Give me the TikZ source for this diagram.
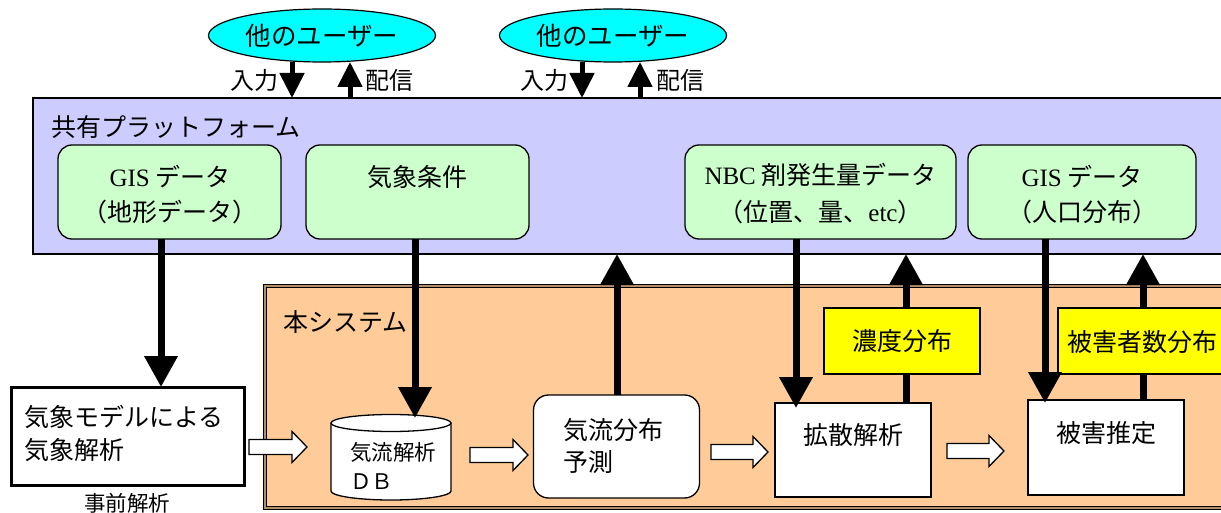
\documentclass[tikz,border=0pt]{standalone}
\usepackage{fontspec}
\setmainfont{Liberation Serif}
\newfontfamily\jp{Noto Sans CJK JP}
\usetikzlibrary{arrows.meta,calc,shapes.geometric}
\definecolor{ucyan}{HTML}{00FFFF}
\definecolor{plat}{HTML}{CCCCFF}
\definecolor{gbox}{HTML}{CCFFCC}
\definecolor{sysc}{HTML}{FFCC99}
\definecolor{ybox}{HTML}{FFFF00}
\newcommand\myharrow[3]{\draw[hollowarr] (#1,#3-7.5) -- (#2-15,#3-7.5) -- (#2-15,#3-15.5) -- (#2,#3) -- (#2-15,#3+15.5) -- (#2-15,#3+7.5) -- (#1,#3+7.5) -- cycle;}
\tikzset{
  every node/.style={font=\jp\fontsize{25}{30}\selectfont, inner sep=0pt, outer sep=0pt},
  small/.style={font=\jp\fontsize{21.5}{29}\selectfont},
  mid/.style={font=\jp\fontsize{24}{29}\selectfont},
  user/.style={ellipse, draw, line width=1.2pt, fill=ucyan, minimum width=227pt, minimum height=53pt, font=\jp\fontsize{25.5}{30}\selectfont},
  platbox/.style={draw, line width=1.5pt, fill=plat},
  greenbox/.style={draw, line width=1.3pt, fill=gbox, rounded corners=14pt},
  sysbox/.style={draw, double, double distance=2pt, line width=1pt, fill=sysc, double=sysc!70!black},
  whitebox/.style={draw, line width=2.5pt, fill=white},
  roundwhite/.style={draw, line width=1.3pt, fill=white, rounded corners=15pt},
  yellowbox/.style={draw, line width=2.5pt, fill=ybox},
  bigarr/.style={line width=7pt, -{Triangle[length=31pt,width=32pt]}},
  plainline/.style={line width=7pt},
  smallarr/.style={line width=5pt, -{Triangle[length=25pt,width=24pt]}},
  hollowarr/.style={draw, line width=1.3pt, fill=white},
}
\begin{document}
\begin{tikzpicture}[x=1pt,y=-1pt]
\useasboundingbox[fill=white] (0,0) rectangle (1221,513);
% users
\node[user] (u1) at (322,35.5) {他のユーザー};
\node[user] (u2) at (613,35.5) {他のユーザー};
% platform
\node[platbox, minimum width=1210pt, minimum height=156pt] (plat) at (638,176) {};
\node[anchor=west] (platlbl) at (51,127) {共有プラットフォーム};
% arrows users
\coordinate (c1) at (292,0);
\coordinate (c2) at (350,0);
\coordinate (c3) at (582,0);
\coordinate (c4) at (640,0);
\draw[smallarr] (u1.south -| c1) -- (plat.north -| c1);
\draw[smallarr] (plat.north -| c2) -- (u1.south -| c2);
\draw[smallarr] (u2.south -| c3) -- (plat.north -| c3);
\draw[smallarr] (plat.north -| c4) -- (u2.south -| c4);
\node[mid] (in1) at (254,80) {入力};
\node[mid] (out1) at (389,80) {配信};
\node[mid] (in2) at (544,80) {入力};
\node[mid] (out2) at (680,80) {配信};
% green boxes
\node[greenbox, minimum width=223pt, minimum height=94pt] (gis1) at (169.5,192) {};
\node[greenbox, minimum width=223pt, minimum height=94pt] (met) at (417.5,192) {};
\node[greenbox, minimum width=271pt, minimum height=94pt] (nbc) at (820.5,192) {};
\node[greenbox, minimum width=228pt, minimum height=94pt] (gis2) at (1082,192) {};
\node[align=center, font=\jp\fontsize{25}{35}\selectfont] (gis1t) at (170,194.5) {{\rmfamily GIS} データ\\（地形データ）};
\node (mett) at (417.5,177) {気象条件};
\node[align=center, font=\jp\fontsize{25}{37}\selectfont] (nbct) at (820.5,193.5) {{\rmfamily NBC} 剤発生量データ\\（位置、量、{\rmfamily etc}）};
\node[align=center, font=\jp\fontsize{25}{35}\selectfont] (gis2t) at (1082,194.5) {{\rmfamily GIS} データ\\（人口分布）};
% system box
\node[sysbox, minimum width=980pt, minimum height=222pt] (sys) at (755,396.5) {};
\node[anchor=west] (syslbl) at (283,322) {本システム};
% model box
\node[whitebox, line width=3pt, minimum width=233pt, minimum height=98pt] (model) at (128,436) {};
\node[anchor=west, align=left, font=\jp\fontsize{25}{33}\selectfont] (modelt) at (24,433.5) {気象モデルによる\\気象解析};
\node[small] (pre) at (127,503) {事前解析};
% cylinder DB
\node[minimum width=120pt, minimum height=85pt] (db) at (391,457.5) {};
\draw[line width=1.3pt, fill=white] (331,423) -- (331,491) arc[start angle=180, end angle=0, x radius=60, y radius=9] -- (451,423);
\draw[line width=1.3pt, fill=white] (391,423) ellipse[x radius=60, y radius=8.5];
\node[small, anchor=west, align=left] (dbt) at (350,466) {気流解析\\ＤＢ};
% flow prediction
\node[roundwhite, minimum width=166pt, minimum height=103pt] (flow) at (616.5,446.5) {};
\node[anchor=west, align=left, font=\jp\fontsize{25}{32}\selectfont] (flowt) at (563,446) {気流分布\\予測};
% diffusion
\node[whitebox, minimum width=156pt, minimum height=94pt] (diff) at (853,450) {};
\node (difft) at (853,435) {拡散解析};
% damage
\node[whitebox, minimum width=156pt, minimum height=95pt] (dmg) at (1106,447.5) {};
\node (dmgt) at (1106,433) {被害推定};
% yellow boxes
\node[yellowbox, minimum width=156pt, minimum height=66pt] (conc) at (902,341) {濃度分布};
\node[yellowbox, minimum width=180pt, minimum height=66pt] (vict) at (1148,341) {};
\node (victt) at (1142,342) {被害者数分布};
% big arrows
\coordinate (d1) at (161,0);
\coordinate (d2) at (415,0);
\coordinate (d3) at (617,0);
\coordinate (d4) at (796,0);
\coordinate (d5) at (906,0);
\coordinate (d6) at (1045,0);
\coordinate (d7) at (1143,0);
\draw[bigarr] (gis1.south -| d1) -- (model.north -| d1);
\draw[bigarr] (met.south -| d2) -- ([yshift=-3pt]db.north -| d2);
\draw[bigarr] (flow.north -| d3) -- (plat.south -| d3);
\draw[bigarr] (nbc.south -| d4) -- ([yshift=-5pt]diff.north -| d4);
\draw[plainline] (diff.north -| d5) -- (conc.south -| d5);
\draw[bigarr] (conc.north -| d5) -- (plat.south -| d5);
\draw[bigarr] (gis2.south -| d6) -- ([yshift=-3pt]dmg.north -| d6);
\draw[plainline] (dmg.north -| d7) -- (vict.south -| d7);
\draw[bigarr] (vict.north -| d7) -- (plat.south -| d7);
% hollow arrows
\myharrow{249}{307}{447}
\myharrow{470}{528}{455}
\myharrow{711}{768}{452}
\myharrow{947}{1004}{451}
\end{tikzpicture}
\end{document}
